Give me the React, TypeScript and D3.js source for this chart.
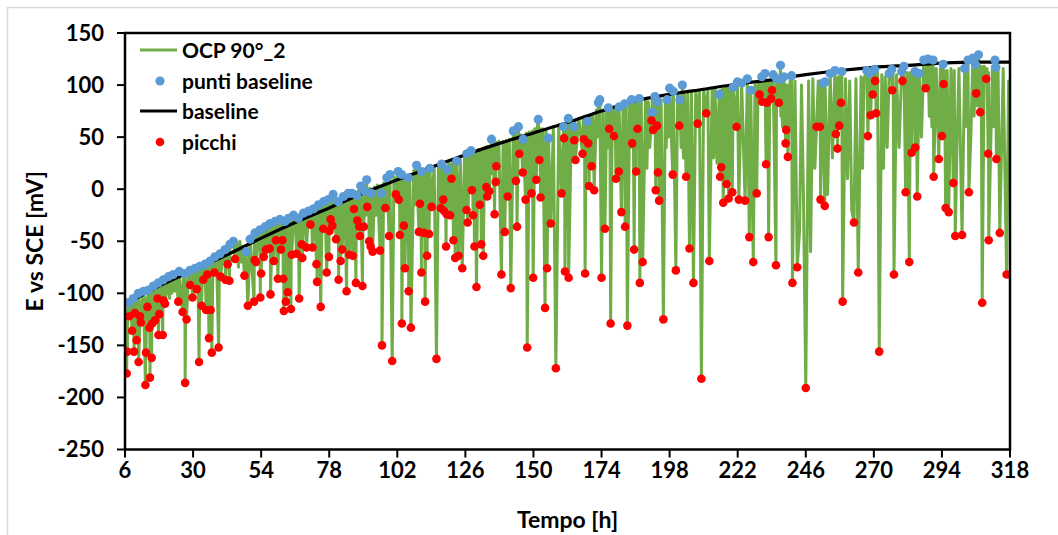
import React from 'react';
import * as d3 from 'd3';

const W = 1058;
const H = 535;

const xTicks = [6, 30, 54, 78, 102, 126, 150, 174, 198, 222, 246, 270, 294, 318];
const yTicks = [-250, -200, -150, -100, -50, 0, 50, 100, 150];

const legendLabels = ['OCP 90°_2', 'punti baseline', 'baseline', 'picchi'];

// baseline fit (black)
const baselineT = [6, 18, 30, 42, 54, 66, 78, 90, 102, 114, 126, 138, 150, 162, 174, 186, 198, 210, 222, 234, 246, 258, 270, 282, 294, 306, 318];
const baselineV = [-111, -93, -78, -63, -47, -32, -18, -4, 9, 21, 33, 44, 54, 64, 75, 85, 91, 96, 101, 105, 110, 114, 117, 119, 121, 122, 122];

// punti baseline (blue) [t, mV]
const bluePoints: [number, number][] = [
  [7.2,-109],[8.9,-105],[10.7,-100],[12.5,-98],[14.2,-97],[16.0,-93],[17.7,-90],[19.5,-87],[21.3,-84],[23.0,-82],[25.1,-79],[27.1,-81],[28.9,-78],[30.7,-76],[32.4,-74],[34.2,-72],[36.0,-69],[37.7,-65],[39.5,-62],[41.3,-58],[43.0,-53],[44.2,-50],[48.7,-60],[50.1,-48],[51.8,-42],[53.6,-39],[55.4,-36],[57.1,-33],[58.9,-31],[60.6,-29],[62.4,-31],[63.6,-28],[65.4,-25],[67.1,-28],[68.9,-23],[70.7,-21],[72.4,-19],[74.2,-15],[76.0,-12],[77.7,-10],[79.4,-5],[81.2,-12],[83.0,-7],[84.7,-4],[86.0,-4],[87.7,-6],[89.1,3],[90.6,-2],[91.2,9],[92.9,-4],[96.5,-4],[98.3,11],[99.4,14],[102.3,17],[103.5,14],[105.9,11],[108.8,23],[110.6,17],[113.5,20],[117.6,24],[119.6,19],[122.9,27],[126.5,34],[128.0,37],[135.2,48],[142.9,56],[144.7,60],[146.4,48],[151.7,67],[155.3,49],[160.6,60],[162.3,68],[164.2,60],[169.0,65],[172.9,83],[173.4,86],[176.4,78],[180.2,79],[182.2,82],[184.6,86],[187.3,87],[192.0,74],[192.8,89],[193.7,84],[197.1,86],[198.0,97],[199.3,94],[201.6,86],[202.5,100],[215.5,91],[220.4,98],[221.9,103],[223.4,102],[225.4,106],[226.6,95],[230.5,108],[231.6,111],[234.5,110],[235.7,106],[237.1,119],[237.3,106],[238.3,108],[241.0,109],[252.0,102],[252.8,103],[254.6,111],[256.3,114],[258.7,113],[267.5,114],[268.7,111],[270.3,115],[275.4,111],[276.3,115],[279.8,113],[280.6,118],[284.5,113],[286.0,111],[287.6,124],[289.1,125],[290.9,124],[294.4,120],[302.0,116],[303.2,124],[304.9,126],[305.8,120],[306.9,129],[312.7,124],[313.0,117]
];

// picchi (red) [t, mV]
const redPoints: [number, number][] = [
  [6.6,-177],[6.8,-156],[7.5,-122],[8.5,-136],[9.2,-156],[9.5,-119],[10.1,-145],[10.8,-166],[11.3,-122],[11.6,-128],[13.2,-188],[13.4,-157],[13.9,-113],[14.6,-133],[14.8,-181],[15.4,-162],[15.6,-129],[16.6,-126],[17.5,-105],[17.8,-140],[18.1,-120],[19.3,-140],[19.6,-107],[20.1,-110],
  [24.8,-108],[26.3,-118],[27.2,-186],[27.7,-125],[29.0,-92],[29.8,-104],[31.3,-96],[32.1,-166],[33.0,-112],[33.6,-87],[34.6,-116],[35.0,-82],[35.6,-143],[36.2,-116],[36.6,-157],[37.5,-80],[39.0,-152],[39.7,-84],[41.4,-87],[42.2,-72],[42.8,-88],[44.8,-67],
  [48.1,-83],[49.3,-112],[51.5,-108],[51.7,-68],[52.2,-70],[53.7,-104],[54.0,-81],[54.9,-65],[55.7,-58],[57.0,-57],[57.3,-101],[58.5,-69],[59.2,-49],[59.9,-86],[61.0,-58],[61.5,-49],[61.8,-86],[62.0,-117],[62.7,-108],[63.4,-99],[64.5,-115],[64.8,-63],[66.5,-62],[67.4,-105],[68.3,-53],[68.5,-66],[70.0,-56],[71.4,-34],[72.1,-56],[73.5,-72],[73.7,-89],[75.0,-113],[75.9,-38],[77.1,-80],[77.9,-65],[78.1,-40],[78.5,-29],[79.1,-35],[80.4,-48],[81.3,-87],[82.0,-69],[82.6,-58],[84.1,-98],[85.1,-63],
  [86.3,-64],[86.7,-19],[87.4,-90],[87.9,-30],[88.6,-36],[88.8,-45],[89.7,-93],[90.2,-36],[91.4,-17],[92.1,-50],[92.6,-55],[93.3,-60],[95.9,-59],[96.6,-150],[97.8,-18],[99.1,-45],[100.2,-165],[101.5,-5],[102.5,-10],[102.9,-44],[103.6,-129],[104.3,-35],[104.7,-76],[106.0,-98],[106.8,-133],[109.6,-41],[110.0,-14],[110.5,-80],[111.4,-42],[111.8,-108],[112.5,-64],[113.2,-43],[114.1,-17],[115.8,-163],[117.3,-18],[118.2,-10],[118.5,-21],[119.2,-55],[119.4,-24],[120.6,-25],[121.1,10],[121.8,-49],[122.4,-66],[123.6,-64],[124.9,-76],[126.4,-20],[126.8,-32],[128.3,-1],[128.7,-25],[129.2,-55],[129.9,-94],[131.1,-15],[131.6,-53],[132.3,-64],[133.4,2],[133.7,-7],[134.4,-2],[136.3,-24],[136.7,7],[136.9,22],[138.7,-82],[139.9,-41],[140.9,-7],[142.0,-95],[143.8,8],[144.2,-36],[145.0,34],[146.2,16],[147.2,-10],[147.8,-152],[149.3,-4],[149.9,-85],[151.0,9],[152.1,28],[152.5,-8],[154.1,-114],[154.8,-76],[156.1,-33],[157.9,-172],[159.9,-4],[160.8,49],[161.1,-79],[162.4,-85],
  [164.4,47],[164.8,28],[167.3,34],[167.8,48],[168.2,-81],[169.3,44],[169.6,3],[170.5,22],[171.4,-1],[174.0,-85],[175.2,-38],[176.7,58],[177.2,-129],[178.4,51],[179.1,10],[180.1,17],[181.0,-22],[182.3,-36],[183.1,-131],[184.8,44],[185.5,-58],[186.2,17],[186.7,58],[187.5,-90],[188.5,-70],[191.6,66],[192.2,57],[193.1,-1],[193.6,61],[193.9,16],[194.3,-11],[195.8,-125],[199.1,14],[200.2,-78],[201.4,61],[203.8,12],[205.0,-57],[206.4,-90],[207.9,63],[209.2,-182],[210.9,73],[212.0,-69],[215.8,12],[216.2,21],[216.9,-13],[218.1,5],[218.8,-9],[220.1,-3],[221.6,60],[222.4,-10],[224.6,-11],[226.1,-46],[227.5,-70],[228.7,-4],[229.7,91],[230.6,84],[232.0,24],[232.3,83],[232.9,-46],[233.8,87],[234.1,95],[235.5,-73],[236.5,83],[238.9,44],[239.1,57],[239.7,31],
  [241.3,-90],[243.0,-75],[246.0,-191],[249.8,60],[251.0,60],[251.2,-10],[252.7,-16],[256.6,53],[257.2,39],[257.8,61],[258.4,83],[259.0,-108],[263.0,-32],[264.5,-80],[267.9,51],[268.9,71],[269.6,91],[270.45,104],[270.8,73],[271.9,-156],[276.5,95],[277.1,-82],[280.1,104],[281.2,-3],[282.5,-70],[283.3,35],[284.6,40],[285.3,-7],[288.3,97],[291.1,12],[292.9,29],[294.0,51],[294.6,101],[295.3,-18],[296.4,-22],[298.0,6],[298.7,-45],[301.1,-44],[303.5,-3],[306.1,92],[307.5,74],[308.2,-109],[309.6,106],[310.3,34],[310.5,-49],[313.2,29],[314.4,-42],[316.8,-82]
];

// other local maxima of the OCP trace (not marked as baseline points) [t, mV]
const ocpTops: [number, number][] = [
  [6.0,-118],[6.7,-118],[7.0,-112],[8.0,-110],[8.8,-108],[9.35,-112],[9.8,-106],[10.4,-104],[11.45,-108],[12.0,-104],[13.3,-106],[13.65,-104],[14.7,-104],[15.1,-100],[15.5,-102],[17.0,-98],[17.6,-96],[17.95,-95],[18.7,-92],[19.4,-94],[19.85,-92],[22.0,-90],[24.0,-86],
  [26.7,-84],[27.45,-88],[28.3,-84],[29.4,-82],[30.3,-80],[31.7,-80],[33.3,-78],[34.0,-76],[34.8,-76],[35.3,-75],[35.9,-73],[36.4,-74],[37.0,-72],[38.3,-68],[39.3,-66],[40.5,-64],[41.8,-60],[42.5,-60],[45.5,-52],[46.5,-50],[47.5,-55],
  [51.6,-46],[53.0,-42],[53.85,-42],[54.4,-40],[55.2,-38],[56.4,-36],[57.2,-34],[57.9,-34],[59.55,-34],[60.3,-32],[61.25,-32],[61.65,-33],[61.9,-34],[63.0,-32],[64.0,-30],[64.65,-30],[66.0,-28],[66.9,-28],[67.9,-26],[68.4,-27],[69.5,-24],[71.75,-22],[73.0,-20],[73.6,-20],[74.6,-18],[75.5,-16],[76.5,-14],[77.5,-13],[78.0,-14],[78.3,-12],[78.8,-12],[79.9,-10],[80.8,-10],[81.65,-10],[82.3,-9],[83.5,-6],[84.4,-6],[85.6,-4],
  [86.5,-4],[87.0,-2],[87.6,-4],[88.2,-2],[88.7,-3],[90.0,0],[91.75,0],[92.35,1],[94.0,2],[95.0,4],[96.2,3],[97.2,6],[100.8,12],[102.0,13],[102.7,12],[103.25,14],[103.95,13],[104.5,12],[105.3,12],[106.4,14],[107.8,18],[109.8,18],[110.25,18],[111.6,19],[112.15,20],[112.85,20],[115.0,22],[116.5,24],[118.35,22],[118.85,22],[119.3,22],[120.1,25],[120.85,24],[121.45,26],[122.1,27],[124.2,30],[125.7,32],[127.5,34],[128.5,35],[128.95,36],[129.55,36],[130.5,38],[131.35,38],[131.95,39],[132.85,40],[133.55,41],[134.05,41],[135.8,44],[136.5,44],[136.8,45],[137.8,46],[139.3,46],[140.4,47],[141.5,48],[144.0,52],[145.6,52],[147.5,54],[148.5,55],[149.6,56],[150.45,58],[151.4,60],[152.3,58],[153.3,58],[154.45,56],[157.0,60],[158.9,62],[160.95,62],[161.7,64],
  [163.4,66],[164.6,66],[166.0,68],[167.55,68],[168.0,70],[168.6,70],[169.45,66],[170.0,70],[170.95,72],[172.2,76],[174.6,74],[175.8,76],[176.95,74],[177.8,78],[178.75,78],[179.6,80],[181.6,80],[182.7,82],[183.9,83],[185.15,84],[185.85,84],[186.45,85],[188.0,85],[189.5,86],[190.5,84],[191.9,88],[193.35,86],[194.1,84],[195.0,86],[196.5,88],[200.8,90],[203.2,92],[204.4,92],[205.7,93],[207.2,94],[208.5,95],[210.0,96],[211.5,95],[213.0,97],[214.0,98],[216.0,95],[216.55,96],[217.5,97],[218.45,98],[219.45,98],[228.1,100],[229.2,104],[230.15,104],[232.15,104],[232.6,104],[233.35,104],[233.95,104],
  [239.0,100],[239.4,100],[240.5,106],[242.2,104],[244.5,100],[247.0,104],[248.5,106],[250.4,104],[251.1,102],[256.9,106],[257.5,108],[258.1,108],[260.0,106],[261.5,104],[263.7,106],[265.5,108],[266.5,106],[268.4,110],[269.25,110],[270.0,112],[270.6,112],[271.3,112],[272.8,110],[274.0,108],[276.8,112],[278.0,110],[281.8,112],[282.9,112],[283.9,110],[284.9,112],[290.0,118],[292.0,116],[293.45,116],[294.9,114],[295.85,114],[297.2,116],[298.35,114],[300.0,116],[302.7,116],[307.85,118],[308.9,118],[309.9,116],[310.4,112],[311.8,118],[313.8,116],[315.6,116],[317.5,104],[318.0,98]
];

// unmarked shallow minima of the OCP trace [t, mV]
const ocpDips: [number, number][] = [
  [21.7,-105],[22.5,-100],[23.5,-98],[46.0,-75],[47.0,-70],
  [90.9,-25],[94.5,-25],[102.15,-10],[105.6,-15],[108.3,-15],[119.85,-10],[127.75,5],[135.5,15],[163.8,30],
  [172.55,50],[173.15,60],[176.1,40],[181.9,40],[184.25,40],[190.0,20],[191.0,40],[196.8,40],[197.55,50],
  [202.05,40],[202.85,30],[212.5,20],[213.5,30],[214.7,25],[237.2,70],[237.8,60],
  [240.75,60],[243.8,-40],[245.2,-10],[247.7,-60],[249.2,20],[253.7,-5],[255.4,30],[260.7,10],[262.2,-20],[266.0,20],
  [273.4,20],[274.7,40],[278.9,40],[286.8,50],[289.55,70],[290.45,60],[299.3,40],[302.35,60],[304.2,50],[305.35,70],[306.5,80],[312.25,60]
];

const GREEN = '#70AD47';
const BLUE = '#5B9BD5';
const RED = '#FF0000';
const FONT = "Lato, 'Open Sans', 'DejaVu Sans', sans-serif";

export default function App() {
  const x = d3.scaleLinear().domain([6, 318]).range([125, 1010]);
  const y = d3.scaleLinear().domain([-250, 150]).range([449.5, 33]);

  const ocp = [...bluePoints, ...redPoints, ...ocpTops, ...ocpDips].sort((a, b) => a[0] - b[0]);
  const ocpLine = d3.line<[number, number]>().x(d => x(d[0])).y(d => y(d[1]))(ocp) || '';
  const baseData: [number, number][] = baselineT.map((t, i) => [t, baselineV[i]]);
  const baseLine = d3.line<[number, number]>().x(d => x(d[0])).y(d => y(d[1])).curve(d3.curveMonotoneX)(baseData) || '';

  const x0 = x.range()[0], x1 = x.range()[1];
  const y0 = y.range()[0], y1 = y.range()[1];

  const legY = [50, 81, 111, 142];

  return (
    <svg width={W} height={H} style={{ position: 'absolute', left: 0, top: 0, background: '#fff' }} fontFamily={FONT}>
      <rect x={7.5} y={7.5} width={1080} height={560} fill="#fff" stroke="#d9d9d9" strokeWidth={1.5} />
      <defs>
        <clipPath id="plotclip">
          <rect x={x0} y={y1} width={x1 - x0} height={y0 - y1} />
        </clipPath>
      </defs>
      <g clipPath="url(#plotclip)">
        <path d={ocpLine} fill="none" stroke={GREEN} strokeWidth={3} strokeLinejoin="round" />
        <path d={baseLine} fill="none" stroke="#000" strokeWidth={3.2} />
        {bluePoints.map((d, i) => (
          <circle key={'b' + i} cx={x(d[0])} cy={y(d[1])} r={4.6} fill={BLUE} />
        ))}
        {redPoints.map((d, i) => (
          <circle key={'r' + i} cx={x(d[0])} cy={y(d[1])} r={4.3} fill={RED} />
        ))}
      </g>
      {/* plot box */}
      <rect x={x0} y={y1} width={x1 - x0} height={y0 - y1} fill="none" stroke="#000" strokeWidth={2.5} />
      {/* y ticks */}
      {yTicks.map(v => (
        <g key={'yt' + v}>
          <line x1={x0 - 8} x2={x0} y1={y(v)} y2={y(v)} stroke="#000" strokeWidth={2} />
          <text x={104} y={y(v)} dy="0.36em" textAnchor="end" fontSize={22} fontWeight="bold" fill="#000">{v}</text>
        </g>
      ))}
      {/* x ticks */}
      {xTicks.map(t => (
        <g key={'xt' + t}>
          <line x1={x(t)} x2={x(t)} y1={y0} y2={y0 + 8} stroke="#000" strokeWidth={2} />
          <text x={x(t)} y={470} dy="0.36em" textAnchor="middle" fontSize={22} fontWeight="bold" fill="#000">{t}</text>
        </g>
      ))}
      <text x={(x0 + x1) / 2} y={520} dy="0.36em" textAnchor="middle" fontSize={23} fontWeight="bold" fill="#000">Tempo [h]</text>
      <text transform={`translate(35,${(y0 + y1) / 2}) rotate(-90)`} dy="0.36em" textAnchor="middle" fontSize={23} fontWeight="bold" fill="#000">E vs SCE [mV]</text>
      {/* legend */}
      <line x1={140} x2={177} y1={legY[0]} y2={legY[0]} stroke={GREEN} strokeWidth={3} />
      <circle cx={160} cy={legY[1]} r={4.6} fill={BLUE} />
      <line x1={140} x2={177} y1={legY[2]} y2={legY[2]} stroke="#000" strokeWidth={3.2} />
      <circle cx={160} cy={legY[3]} r={4.3} fill={RED} />
      {legendLabels.map((l, i) => (
        <text key={l} x={182} y={legY[i]} dy="0.36em" fontSize={21} fontWeight="bold" fill="#000">{l}</text>
      ))}
    </svg>
  );
}
